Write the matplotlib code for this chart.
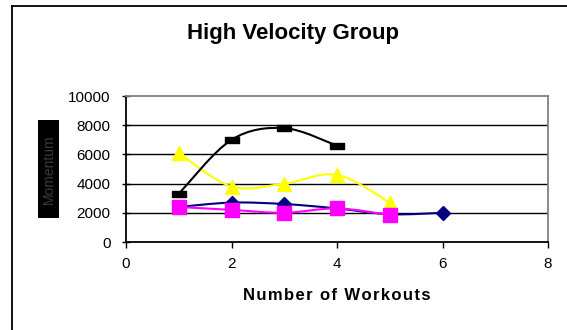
import matplotlib
matplotlib.use("Agg")
import matplotlib.pyplot as plt
from matplotlib.path import Path
from matplotlib.patches import PathPatch, Rectangle
from matplotlib.lines import Line2D
import numpy as np

plt.rcParams['font.family'] = ['Liberation Sans', 'DejaVu Sans']

# workouts (x) and momentum per subject
navy_x = [1, 2, 3, 4, 5, 6]
navy_y = [2400, 2700, 2600, 2300, 1900, 2000]
magenta_x = [1, 2, 3, 4, 5]
magenta_y = [2400, 2200, 2000, 2300, 1850]
yellow_x = [1, 2, 3, 4, 5]
yellow_y = [6100, 3800, 4000, 4600, 2700]
black_x = [1, 2, 3, 4]
black_y = [3300, 7000, 7800, 6600]

x_ticks = [0, 2, 4, 6, 8]
y_ticks = [0, 2000, 4000, 6000, 8000, 10000]


def smooth_path(xs, ys):
    # cubic bezier through the points (catmull-rom style tangents)
    pts = np.column_stack([xs, ys]).astype(float)
    n = len(pts)
    verts = [pts[0]]
    codes = [Path.MOVETO]
    for i in range(n - 1):
        p0 = pts[i - 1] if i > 0 else pts[i]
        p1 = pts[i]
        p2 = pts[i + 1]
        p3 = pts[i + 2] if i + 2 < n else pts[i + 1]
        c1 = p1 + (p2 - p0) / 6.0
        c2 = p2 - (p3 - p1) / 6.0
        verts += [c1, c2, p2]
        codes += [Path.CURVE4] * 3
    return Path(verts, codes)


def spaced(s):
    # widen the letter spacing with hair spaces
    return '\u200a'.join(s)


fig = plt.figure(figsize=(5.67, 3.30), dpi=100)
ax = fig.add_axes([126 / 567, 88 / 330, 422 / 567, 146 / 330])

flat_box = [(-1, -0.4), (1, -0.4), (1, 0.4), (-1, 0.4), (-1, -0.4)]

series = [
    (navy_x, navy_y, '#000080', 'D', 7.5, 2),
    (yellow_x, yellow_y, '#FFFF00', '^', 10, 3),
    (black_x, black_y, '#000000', flat_box, 10, 4),
    (magenta_x, magenta_y, '#FF00FF', 's', 9.5, 5),
]
for xs, ys, col, mk, ms, z in series:
    ax.add_patch(PathPatch(smooth_path(xs, ys), fill=False, edgecolor=col,
                           lw=1.5, zorder=z))
    ax.plot(xs, ys, linestyle='none', marker=mk, markersize=ms,
            color=col, markeredgecolor=col, zorder=z + 0.5, clip_on=False)

ax.set_xlim(0, 8)
ax.set_ylim(0, 10000)
ax.set_xticks(x_ticks)
ax.set_yticks(y_ticks)

for v in y_ticks[1:-1]:
    ax.axhline(v, color='black', lw=1.0, zorder=1)

ax.spines['left'].set_color('black')
ax.spines['bottom'].set_color('black')
ax.spines['top'].set_color('#808080')
ax.spines['right'].set_color('#808080')
for s in ax.spines.values():
    s.set_linewidth(1.3)

ax.tick_params(axis='x', direction='out', length=4, width=1, pad=7,
               labelsize=11)
ax.tick_params(axis='y', direction='inout', length=6, width=1, pad=8,
               labelsize=11)

ax.set_xlabel(spaced('Number of Workouts'), fontsize=12, fontweight='bold',
              labelpad=12)

fig.text(293 / 567, 1 - 33 / 330, 'High Velocity Group', fontsize=16,
         fontweight='bold', ha='center', va='center')

# y-axis title drawn in a dark box
fig.add_artist(Rectangle((38 / 567, 1 - 218 / 330), 21 / 567, 98 / 330,
                         transform=fig.transFigure, facecolor='black',
                         edgecolor='none'))
fig.text(48.5 / 567, 1 - 169 / 330, 'Momentum', rotation=90, fontsize=10,
         color='#3a3a3a', ha='center', va='center')

# chart frame
fig.add_artist(Line2D([12 / 567, 1], [1 - 6 / 330, 1 - 6 / 330],
                      transform=fig.transFigure, color='black', lw=1.3))
fig.add_artist(Line2D([12 / 567, 12 / 567], [0, 1 - 6 / 330],
                      transform=fig.transFigure, color='black', lw=1.3))

fig.savefig('out.png', dpi=100)
